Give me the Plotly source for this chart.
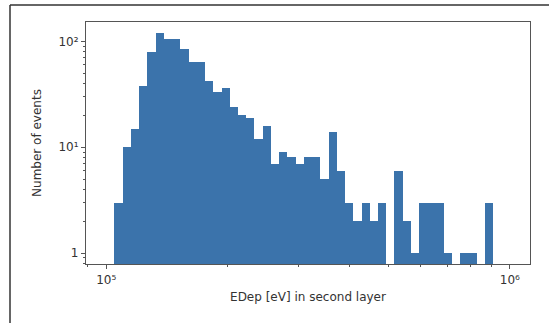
import numpy as np
import plotly.graph_objects as go

# Histogram: 49 log-spaced bins between 1e5 and 1e6 eV
bin_log_min = 5.0
bin_log_max = 6.0
n_bins = 49
counts = [0, 3, 10, 15, 38, 79, 120, 106, 106, 85, 64, 64, 42, 33, 36, 24, 20, 19,
          12, 16, 7, 9, 8, 7, 8, 8, 5, 14, 6, 3, 2, 3, 2, 3, 0, 6, 2, 1, 3, 3, 3,
          1, 0, 1, 1, 0, 3, 0, 0]

x_label = "EDep [eV] in second layer"
y_label = "Number of events"
x_tickvals = [1e5, 1e6]
x_ticktext = ["10\u2075", "10\u2076"]
y_tickvals = [1, 10, 100]
y_ticktext = ["1", "10\u00b9", "10\u00b2"]

edges = np.logspace(bin_log_min, bin_log_max, n_bins + 1)
lin_centers = (edges[:-1] + edges[1:]) / 2
widths = edges[1:] - edges[:-1]
yvals = [c if c > 0 else None for c in counts]

# axis ranges with matplotlib-like 5% margins (in log space)
xr = [bin_log_min - 0.05 * (bin_log_max - bin_log_min), bin_log_max + 0.05 * (bin_log_max - bin_log_min)]
ymax_log = np.log10(max(counts))
yr = [-0.05 * ymax_log, ymax_log * 1.05]

def minor_vals(lo, hi):
    vals = []
    for d in range(int(np.floor(lo)) - 1, int(np.ceil(hi)) + 1):
        for m in range(2, 10):
            v = m * 10.0 ** d
            if lo <= np.log10(v) <= hi:
                vals.append(v)
    return vals

fig = go.Figure()
fig.add_trace(go.Bar(x=lin_centers, y=yvals, width=widths,
                     marker=dict(color="#3b73ab", line=dict(width=0))))

font = dict(family="DejaVu Sans", size=10, color="#333333")
spine = "#555555"
fig.update_layout(
    width=549, height=323,
    margin=dict(l=86, r=19, t=22, b=59),
    paper_bgcolor="white", plot_bgcolor="white",
    bargap=0, showlegend=False, font=font,
)
fig.update_xaxes(
    type="log", range=xr, tickmode="array", tickvals=x_tickvals, ticktext=x_ticktext,
    ticks="outside", ticklen=4, tickwidth=1, tickcolor=spine,
    minor=dict(tickmode="array", tickvals=minor_vals(*xr), ticks="outside", ticklen=2, tickcolor=spine, showgrid=False),
    showgrid=False, zeroline=False, showline=True, linecolor=spine, linewidth=1.2, mirror=True,
    title=dict(text=x_label, font=dict(size=12, color="#333333"), standoff=7),
    tickfont=dict(size=12),
)
fig.update_yaxes(
    type="log", range=yr, tickmode="array", tickvals=y_tickvals, ticktext=y_ticktext,
    ticks="outside", ticklen=4, tickwidth=1, tickcolor=spine,
    minor=dict(tickmode="array", tickvals=minor_vals(*yr), ticks="outside", ticklen=2, tickcolor=spine, showgrid=False),
    showgrid=False, zeroline=False, showline=True, linecolor=spine, linewidth=1.2, mirror=True,
    title=dict(text=y_label, font=dict(size=12, color="#333333"), standoff=14),
    tickfont=dict(size=12),
)

# outer frame lines (left and top) of the screenshot
pw = 549 - 86 - 19
ph = 323 - 22 - 59
fx = (10 - 86) / pw
fy = 1 + (22 - 5) / ph
fig.add_shape(type="line", xref="paper", yref="paper", x0=fx, x1=(549 - 86) / pw + 0.01, y0=fy, y1=fy,
              line=dict(color="#333333", width=1.5))
fig.add_shape(type="line", xref="paper", yref="paper", x0=fx, x1=fx, y0=fy, y1=-59 / ph - 0.01,
              line=dict(color="#333333", width=1.5))

fig.write_html("out.html")
